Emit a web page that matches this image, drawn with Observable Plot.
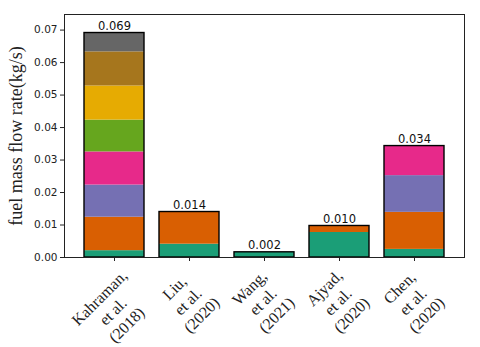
<!DOCTYPE html>
<html>
<head>
<meta charset="utf-8">
<script src="https://cdn.jsdelivr.net/npm/d3@7"></script>
<script src="https://cdn.jsdelivr.net/npm/@observablehq/plot@0.6"></script>
<style>
  html, body { margin: 0; padding: 0; background: #fff; }
  #chart svg { display: block; }
</style>
</head>
<body>
<div id="chart"></div>
<script>
// ---- data ----
const studies = ["Kahraman, et al. (2018)", "Liu, et al. (2020)", "Wang, et al. (2021)", "Ajyad, et al. (2020)", "Chen, et al. (2020)"];
const tickLabels = ["Kahraman,\net al.\n(2018)", "Liu,\net al.\n(2020)", "Wang,\net al.\n(2021)", "Ajyad,\net al.\n(2020)", "Chen,\net al.\n(2020)"];
const kahraman = [0.0021, 0.0103, 0.0099, 0.0102, 0.0098, 0.0105, 0.0105, 0.0058];
const liu = [0.0041, 0.0099];
const wang = [0.0016];
const ajyad = [0.0077, 0.0020];
const chen = [0.0025, 0.0114, 0.0113, 0.0091];
const yTicks = [0.00, 0.01, 0.02, 0.03, 0.04, 0.05, 0.06, 0.07];
const yLabel = "fuel mass flow rate(kg/s)";

const components = [kahraman, liu, wang, ajyad, chen];
const segments = [];
components.forEach((vals, i) => vals.forEach((v, j) => segments.push({study: studies[i], part: j, value: v})));
const totals = components.map((vals, i) => ({study: studies[i], label: tickLabels[i], total: d3.sum(vals)}));

// x tick labels: matplotlib-like rotated (45°), centred multi-line blocks
const labelFontSize = 16;
const labelLineHeight = 1.2;
const labelFont = `${labelFontSize}px "Liberation Serif"`;
const ctx = document.createElement("canvas").getContext("2d");
ctx.font = labelFont;
const labelMarks = totals.map(d => {
  const lines = d.label.split("\n");
  const w = d3.max(lines, l => ctx.measureText(l).width);
  const H = lines.length * labelFontSize * labelLineHeight;
  return Plot.text([d], {
    x: "study", frameAnchor: "bottom", text: "label",
    rotate: -45, textAnchor: "middle", lineAnchor: "middle",
    dx: -2, dy: 8 + Math.SQRT1_2 * (w + H) / 2,
    fontSize: labelFontSize, fontFamily: "Liberation Serif", lineHeight: labelLineHeight, fill: "#222"
  });
});

const chart = Plot.plot({
  width: 480,
  height: 347,
  marginLeft: 64,
  marginRight: 16,
  marginTop: 14,
  marginBottom: 90,
  style: {fontFamily: "DejaVu Sans", background: "#fff", color: "#222"},
  x: {domain: studies, paddingInner: 0.2, paddingOuter: 0.24, label: null},
  y: {domain: [0, 0.0748], label: null},
  color: {type: "ordinal", domain: d3.range(8), range: d3.schemeDark2},
  marks: [
    Plot.barY(segments, {x: "study", y: "value", fill: "part", inset: 0}),
    Plot.barY(totals, {x: "study", y: "total", fill: "none", stroke: "black", strokeWidth: 1.4, inset: 0}),
    Plot.text(totals, {x: "study", y: "total", text: d => d3.format(".3f")(d.total), lineAnchor: "bottom", dy: -3, fontSize: 11.5, fill: "#111"}),
    Plot.frame({stroke: "#222", strokeWidth: 1}),
    Plot.axisY({ticks: yTicks, tickFormat: ".2f", tickSize: 4, tickPadding: 3, fontSize: 10.5, label: null, stroke: "#222"}),
    Plot.axisX({tickSize: 4, tickFormat: () => "", label: null, stroke: "#222"}),
    ...labelMarks,
    Plot.text([yLabel], {frameAnchor: "left", rotate: -90, textAnchor: "middle", lineAnchor: "bottom", dx: -43, fontSize: 18, fontFamily: "Liberation Serif", fill: "#222"})
  ]
});
document.getElementById("chart").appendChild(chart);
</script>
</body>
</html>
